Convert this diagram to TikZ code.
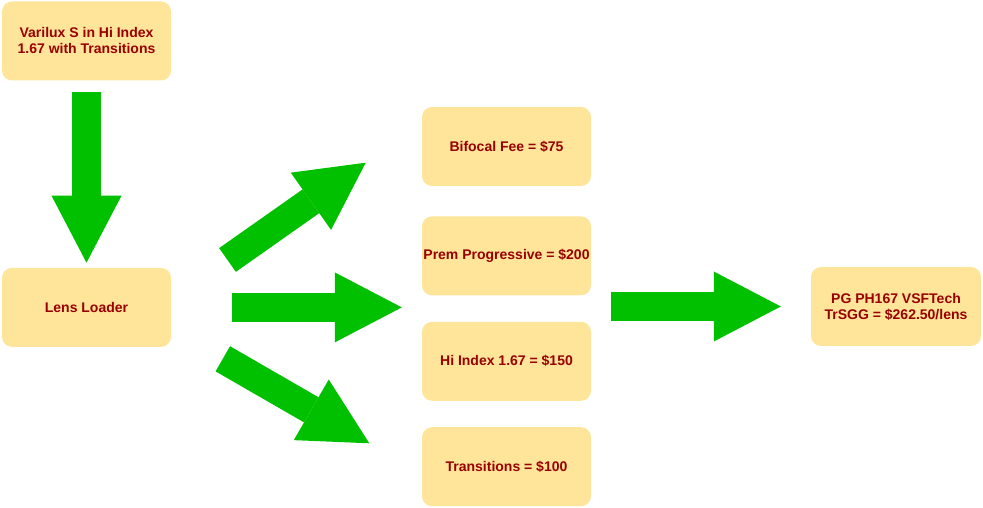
\documentclass[tikz,border=0pt]{standalone}
\usepackage{xcolor}
\usepackage{fontspec}
\setmainfont{Liberation Sans}
\usepackage{tikz}
\usetikzlibrary{arrows.meta,positioning}
\definecolor{boxfill}{HTML}{FFE599}
\definecolor{boxtext}{HTML}{990000}
\definecolor{arrowgreen}{HTML}{00C000}

\begin{document}
\begin{tikzpicture}[
    x=1pt, y=1pt,
    node distance=26pt,
    lensbox/.style={rectangle, rounded corners=10pt, fill=boxfill, minimum width=169pt, minimum height=79pt, inner xsep=0pt, align=center, text=boxtext, font=\fontsize{14}{16}\selectfont\bfseries},
    bigarrow/.style={arrowgreen, line width=29pt, -{Triangle[length=67pt, width=70pt, line width=0pt]}}
]
    \useasboundingbox (0,0) rectangle (983,508);

    % Lens order
    \node[lensbox] (varilux) at (86.5,467) {Varilux S in Hi Index\\1.67 with Transitions};
    \node[lensbox, below=187pt of varilux] (loader) {Lens Loader};

    % Fees
    \node[lensbox] (bifocal) at (506.5,361.5) {Bifocal Fee = \$75};
    \node[lensbox, below=30pt of bifocal] (prem) {Prem Progressive = \$200};
    \node[lensbox, below=of prem] (hiindex) {Hi Index 1.67 = \$150};
    \node[lensbox, below=of hiindex] (trans) {Transitions = \$100};

    % Result
    \node[lensbox, minimum width=170pt] (result) at (896,201.5) {PG PH167 VSFTech\\TrSGG = \$262.50/lens};

    % Block arrows
    \coordinate (upTail) at (227.5,248);
    \coordinate (upTip) at (365.7,345.3);
    \coordinate (downTail) at (222.8,149.2);
    \coordinate (downTip) at (369.3,64.7);

    \draw[bigarrow, shorten <=11pt, shorten >=5pt] (varilux) -- (loader);
    \draw[bigarrow] (upTail) -- (upTip);
    \draw[bigarrow, shorten <=61pt, shorten >=20pt] (loader.east) -- (loader.east -| bifocal.west);
    \draw[bigarrow] (downTail) -- (downTip);
    \draw[bigarrow, shorten <=20pt, shorten >=30pt] (result.west -| prem.east) -- (result.west);
\end{tikzpicture}
\end{document}
